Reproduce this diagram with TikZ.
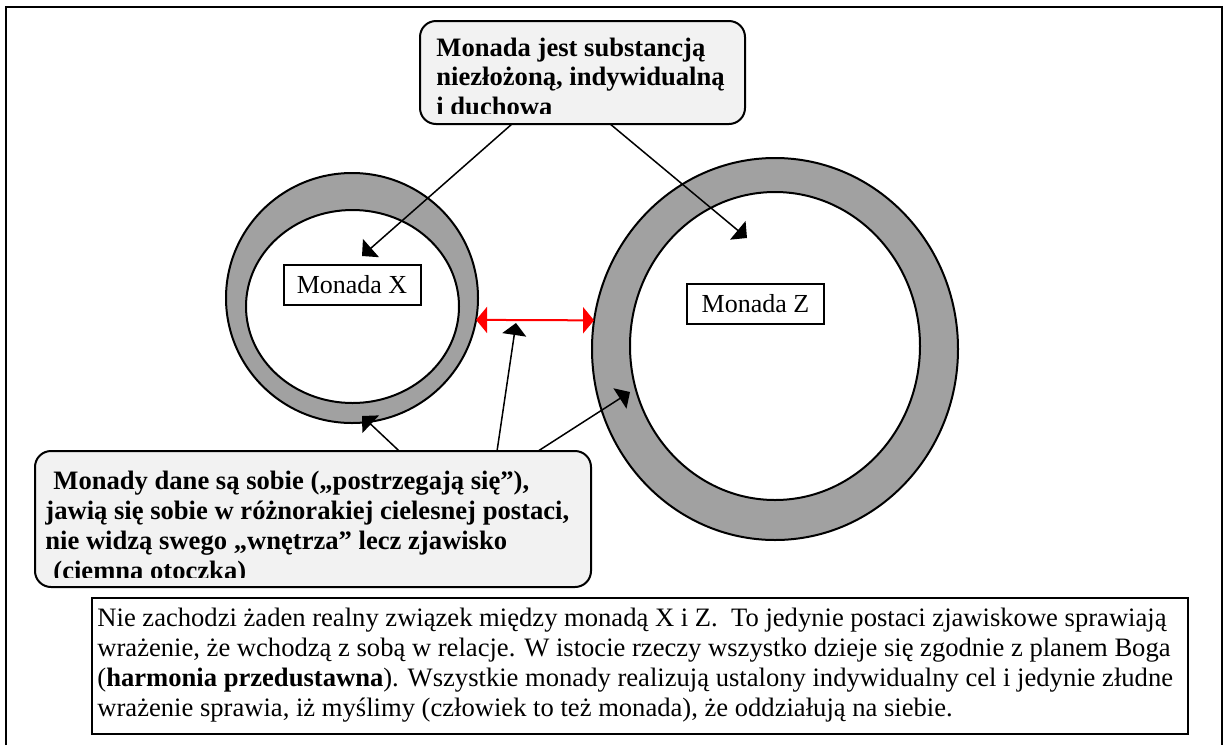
\documentclass[tikz,border=0pt]{standalone}
\usepackage{fontspec}
\setmainfont{Liberation Serif}
\usetikzlibrary{shapes.geometric}
\usetikzlibrary{arrows.meta}
\usetikzlibrary{calc}

\tikzset{
  ring/.style={ellipse,draw,line width=1pt,inner sep=0pt,outer sep=0pt},
  namebox/.style={draw,line width=1pt,fill=white,minimum width=68.5pt,minimum height=20pt,inner sep=0pt,font=\fontsize{13}{15}\selectfont},
  callout/.style={draw,line width=1pt,rounded corners=8pt,fill=black!5,inner sep=0pt,outer sep=0pt},
  calltext/.style={font=\fontsize{13.3}{14.8}\selectfont\bfseries,align=left,inner sep=0pt,anchor=north west},
  notetext/.style={font=\fontsize{13.3}{15}\selectfont,align=left,inner sep=0pt,anchor=north west},
  pointer/.style={line width=0.75pt,-{Triangle[length=6pt,width=12pt]}},
  tie/.style={red,line width=1pt,{Triangle[length=5.5pt,width=13pt]}-{Triangle[length=5.5pt,width=13pt]}}
}

\begin{document}
\begin{tikzpicture}[x=0.5pt,y=-0.5pt]
\useasboundingbox (0,0) rectangle (1227,745);
\draw[line width=1.2pt] (6,745) -- (6,7) -- (1222,7) -- (1222,745);

\node[ring,fill=black!37,minimum width=126pt,minimum height=125pt] (xout) at (352,298) {};
\node[ring,fill=white,minimum width=106.5pt,minimum height=96.5pt] (xin) at (352.5,306.5) {};
\node[ring,fill=black!37,minimum width=183pt,minimum height=191pt] (zout) at (775,349) {};
\node[ring,fill=white,minimum width=145pt,minimum height=154pt] (zin) at (775,346) {};

\node[namebox] (mx) at (352,285) {Monada X};
\node[namebox] (mz) at (755.5,304) {Monada Z};

\draw[tie] (xout.-10) -- (zout.171);

\node[callout,minimum width=162.5pt,minimum height=51.5pt] (sub) at (582.5,72.5) {};
\begin{scope}
  \clip (sub.north west) rectangle (745,113);
  \node[calltext] (subtxt) at (436,37.5) {Monada jest substancją\\niezłożoną, indywidualną\\i duchowa};
\end{scope}

\node[callout,minimum width=278pt,minimum height=68pt] (seen) at (313,519) {};
\begin{scope}
  \clip (seen.north west) rectangle (591,577);
  \node[calltext,font=\fontsize{13.3}{15}\selectfont\bfseries] (seentxt) at (45,470.5) {\hspace*{4pt}Monady dane są sobie („postrzegają się”),\\jawią się sobie w różnorakiej cielesnej postaci,\\nie widzą swego „wnętrza” lecz zjawisko\\\hspace*{4pt}(ciemna otoczka)};
\end{scope}

\node[draw,line width=1.3pt,fill=white,minimum width=548pt,minimum height=68pt,inner sep=0pt] (note) at (640,666) {};
\node[notetext] (notetxt) at (97,608) {Nie zachodzi żaden realny związek między monadą X i Z.\ \ To jedynie postaci zjawiskowe sprawiają\\wrażenie, że wchodzą z sobą w relacje. W istocie rzeczy wszystko dzieje się zgodnie z planem Boga\\(\textbf{harmonia przedustawna}). Wszystkie monady realizują ustalony indywidualny cel i jedynie złudne\\wrażenie sprawia, iż myślimy (człowiek to też monada), że oddziałują na siebie.};

\coordinate (tipX) at (362,256);
\coordinate (tipZ) at (747,238);
\coordinate (tipXb) at (362,416);
\coordinate (tipMid) at (516,323);
\coordinate (tipZb) at (630,392);

\draw[pointer] ($(sub.south west)!0.283!(sub.south east)$) -- (tipX);
\draw[pointer] ($(sub.south west)!0.585!(sub.south east)$) -- (tipZ);
\draw[pointer] ($(seen.north west)!0.655!(seen.north east)$) -- (tipXb);
\draw[pointer] ($(seen.north west)!0.831!(seen.north east)$) -- (tipMid);
\draw[pointer] ($(seen.north west)!0.905!(seen.north east)$) -- (tipZb);
\end{tikzpicture}
\end{document}
